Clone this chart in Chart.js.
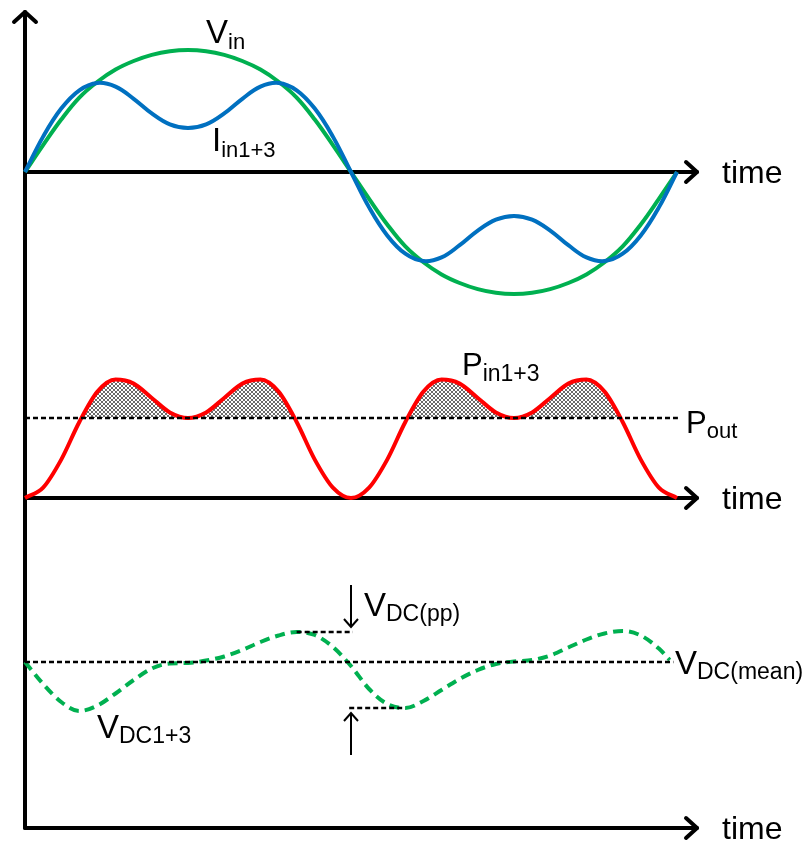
<!DOCTYPE html>
<html>
<head>
<meta charset="utf-8">
<script src="https://cdn.jsdelivr.net/npm/chart.js@4.4.1/dist/chart.umd.min.js"></script>
<style>
  html, body { margin: 0; padding: 0; background: #ffffff; }
  #wrap { width: 811px; height: 841px; }
</style>
</head>
<body>
<div id="wrap"><canvas id="waves" width="811" height="841"></canvas></div>
<script>
// one mains period, in degrees
const timeDeg = [0, 10, 20, 30, 40, 50, 60, 70, 80, 90, 100, 110, 120, 130, 140, 150, 160, 170, 180,
                 190, 200, 210, 220, 230, 240, 250, 260, 270, 280, 290, 300, 310, 320, 330, 340, 350, 360];

// input voltage (peak = 1)
const vin = [0, 0.22, 0.43, 0.61, 0.74, 0.84, 0.91, 0.96, 0.99, 1.00, 0.99, 0.96, 0.91, 0.84, 0.74, 0.61, 0.43, 0.22, 0,
             -0.22, -0.43, -0.61, -0.74, -0.84, -0.91, -0.96, -0.99, -1.00, -0.99, -0.96, -0.91, -0.84, -0.74, -0.61, -0.43, -0.22, 0];

// input current with 3rd harmonic
const iin = [0, 0.29, 0.52, 0.67, 0.73, 0.70, 0.60, 0.48, 0.39, 0.36, 0.39, 0.48, 0.60, 0.70, 0.73, 0.67, 0.52, 0.29, 0,
             -0.29, -0.52, -0.67, -0.73, -0.70, -0.60, -0.48, -0.39, -0.36, -0.39, -0.48, -0.60, -0.70, -0.73, -0.67, -0.52, -0.29, 0];

// instantaneous input power (Pout = 1)
const pin = [0, 0.13, 0.48, 0.95, 1.33, 1.48, 1.43, 1.25, 1.07, 1.00, 1.07, 1.25, 1.43, 1.48, 1.33, 0.95, 0.48, 0.13, 0,
             0.13, 0.48, 0.95, 1.33, 1.48, 1.43, 1.25, 1.07, 1.00, 1.07, 1.25, 1.43, 1.48, 1.33, 0.95, 0.48, 0.13, 0];
const pout = 1;

// DC link voltage ripple around its mean
const vdcTime = [0, 10, 20, 30, 40, 50, 60, 70, 80, 90, 100, 110, 120, 130, 140, 150, 160, 170, 180,
                 190, 200, 210, 220, 230, 240, 250, 260, 270, 280, 290, 300, 310, 320, 330, 340, 350, 356];
const vdc = [0, -0.44, -0.80, -0.98, -0.87, -0.63, -0.36, -0.13, -0.03, -0.02, 0.03, 0.11, 0.24, 0.40, 0.53, 0.60, 0.54, 0.30, -0.08,
             -0.54, -0.84, -0.92, -0.78, -0.56, -0.34, -0.16, -0.04, 0.01, 0.04, 0.13, 0.29, 0.45, 0.57, 0.62, 0.53, 0.27, 0.04];
const vdcMean = 0;

const axisName = "time";

const GREEN = "#00b050", BLUE = "#0070c0", RED = "#ff0000";
const FONT = '"Liberation Sans", Arial, sans-serif';

const W = 811, H = 841;
const ORIGIN_X = 25, END_X = 677;        // pixel span of one period
const pxPerDeg = (END_X - ORIGIN_X) / 360;

// each panel gets its own y scale spanning the full canvas
function band(zeroPx, unitPx) {
    return { min: -(H - zeroPx) / unitPx, max: zeroPx / unitPx };
}

function pts(xs, ys) {
    return ys.map((y, i) => ({ x: xs[i], y }));
}

function crossHatch() {
    const c = document.createElement("canvas");
    c.width = 4; c.height = 4;
    const g = c.getContext("2d");
    g.fillStyle = "#ffffff";
    g.fillRect(0, 0, 4, 4);
    g.strokeStyle = "#6a6a6a";
    g.lineWidth = 1;
    g.beginPath();
    g.moveTo(0, 0); g.lineTo(4, 4);
    g.moveTo(4, 0); g.lineTo(0, 4);
    g.stroke();
    return g.createPattern(c, "repeat");
}

const iHi = vdc.indexOf(Math.max(...vdc.slice(0, 19)));
const iLo = 18 + vdc.slice(18).indexOf(Math.min(...vdc.slice(18)));
const vdcHi = vdc[iHi], vdcLo = vdc[iLo];
const midT = 180;

const dotted = { borderColor: "#000", borderWidth: 2.5, borderDash: [5, 3], pointRadius: 0, fill: false };

function sub(ctx, main, small, x, y, big, little, drop) {
    ctx.font = big + "px " + FONT;
    ctx.fillText(main, x, y);
    const w = ctx.measureText(main).width;
    ctx.font = little + "px " + FONT;
    ctx.fillText(small, x + w, y + drop);
}

function arrowHead(ctx, tx, ty, ax, ay, len, half) {
    // ax, ay: unit direction the arrow points to
    const bx = tx - ax * len, by = ty - ay * len;
    ctx.beginPath();
    ctx.moveTo(bx - ay * half, by + ax * half);
    ctx.lineTo(tx, ty);
    ctx.lineTo(bx + ay * half, by - ax * half);
    ctx.stroke();
}

const diagram = {
    id: "diagram",
    beforeDatasetsDraw(chart) {
        const ctx = chart.ctx;
        const x = chart.scales.x;
        const rows = [chart.scales.yV.getPixelForValue(0), chart.scales.yP.getPixelForValue(0), 828];
        const x0 = x.getPixelForValue(0), xEnd = 697;
        ctx.save();
        ctx.strokeStyle = "#000";
        ctx.lineWidth = 4;
        ctx.lineCap = "round";
        ctx.lineJoin = "round";
        ctx.beginPath();
        ctx.moveTo(x0, rows[2]);
        ctx.lineTo(x0, 12);
        ctx.stroke();
        arrowHead(ctx, x0, 12, 0, -1, 10, 11);
        rows.forEach(r => {
            ctx.beginPath();
            ctx.moveTo(x0, r);
            ctx.lineTo(xEnd, r);
            ctx.stroke();
            arrowHead(ctx, xEnd, r, 1, 0, 11, 10);
        });
        ctx.restore();
    },
    afterDraw(chart) {
        const ctx = chart.ctx;
        const x = chart.scales.x, yD = chart.scales.yD;
        const rows = [chart.scales.yV.getPixelForValue(0), chart.scales.yP.getPixelForValue(0), 828];
        ctx.save();
        ctx.fillStyle = "#000";
        ctx.textBaseline = "alphabetic";
        ctx.font = "32px " + FONT;
        rows.forEach(r => ctx.fillText(axisName, 722, r + 11));

        sub(ctx, "V", "in", 206, 43, 33, 22, 6);
        sub(ctx, "I", "in1+3", 212, 151, 33, 22, 6);
        sub(ctx, "P", "in1+3", 462, 375, 31, 23, 6);
        sub(ctx, "P", "out", 686, 433, 31, 22, 5);
        sub(ctx, "V", "DC(pp)", 364, 616, 33, 23, 5);
        sub(ctx, "V", "DC(mean)", 675, 674, 33, 23, 5);
        sub(ctx, "V", "DC1+3", 97, 738, 33, 23, 5);

        // ripple span arrows
        const ax = x.getPixelForValue(midT);
        const top = yD.getPixelForValue(vdcHi), bot = yD.getPixelForValue(vdcLo);
        ctx.strokeStyle = "#000";
        ctx.lineWidth = 2;
        ctx.beginPath();
        ctx.moveTo(ax, top - 47); ctx.lineTo(ax, top - 5);
        ctx.moveTo(ax, bot + 47); ctx.lineTo(ax, bot + 5);
        ctx.stroke();
        arrowHead(ctx, ax, top - 5, 0, 1, 8, 7);
        arrowHead(ctx, ax, bot + 5, 0, -1, 8, 7);
        ctx.restore();
    }
};

const line = (data, color, axis, extra) => Object.assign({
    data, yAxisID: axis, borderColor: color, borderWidth: 4, pointRadius: 0,
    tension: 0.4, fill: false, borderJoinStyle: "round"
}, extra || {});

new Chart(document.getElementById("waves"), {
    type: "line",
    data: {
        datasets: [
            line(pts(timeDeg, iin), BLUE, "yV"),
            line(pts(timeDeg, vin), GREEN, "yV"),
            Object.assign({ data: [{ x: 0, y: pout }, { x: 360.5, y: pout }], yAxisID: "yP" }, dotted),
            line(pts(timeDeg, pin), RED, "yP", {
                cubicInterpolationMode: "monotone",
                fill: { target: { value: pout }, above: crossHatch(), below: "rgba(0,0,0,0)" }
            }),
            Object.assign({ data: [{ x: 0, y: vdcMean }, { x: 358, y: vdcMean }], yAxisID: "yD" }, dotted),
            Object.assign({ data: [{ x: vdcTime[iHi], y: vdcHi }, { x: midT + 1, y: vdcHi }], yAxisID: "yD" }, dotted),
            Object.assign({ data: [{ x: midT - 1, y: vdcLo }, { x: vdcTime[iLo], y: vdcLo }], yAxisID: "yD" }, dotted),
            line(pts(vdcTime, vdc), GREEN, "yD", { borderDash: [10, 6], cubicInterpolationMode: "monotone" })
        ]
    },
    options: {
        responsive: false,
        animation: false,
        events: [],
        layout: { padding: 0 },
        plugins: { legend: { display: false }, tooltip: { enabled: false }, title: { display: false } },
        scales: {
            x: { type: "linear", display: false, min: -ORIGIN_X / pxPerDeg, max: (W - ORIGIN_X) / pxPerDeg },
            yV: Object.assign({ type: "linear", display: false }, band(172, 122)),
            yP: Object.assign({ type: "linear", display: false }, band(498, 80)),
            yD: Object.assign({ type: "linear", display: false }, band(662, 50))
        }
    },
    plugins: [diagram]
});
</script>
</body>
</html>
